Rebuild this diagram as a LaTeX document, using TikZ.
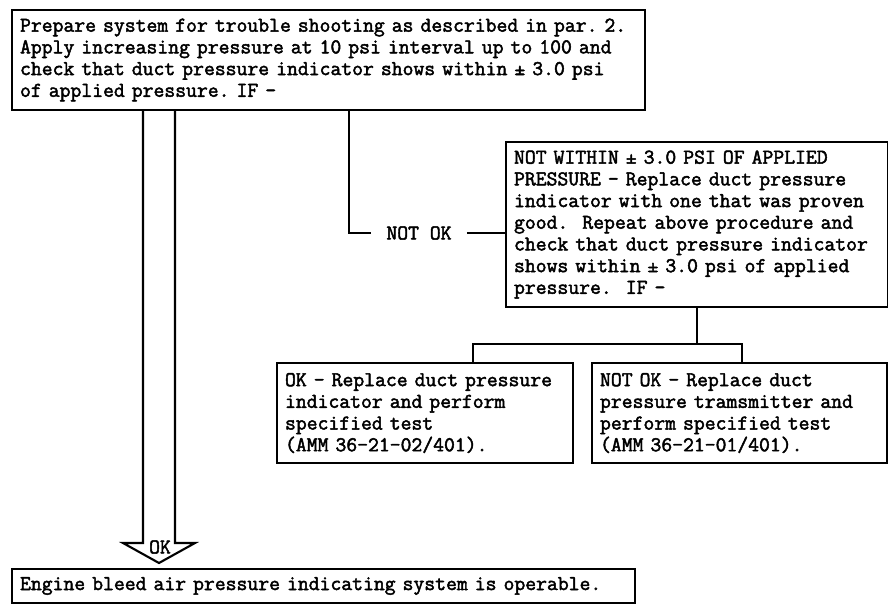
\documentclass[tikz,border=0pt]{standalone}
\usepackage{fontspec}
\setmonofont{Latin Modern Mono}[FakeBold=2.2]
\usepackage{tikz}
\usetikzlibrary{positioning}
\newcommand{\boxfont}{\ttfamily\fontsize{12}{12.35}\selectfont\frenchspacing}

\begin{document}
\begin{tikzpicture}[x=0.02cm,y=-0.02cm,
  stepbox/.style={draw,rectangle,line width=1.2pt,align=left,inner xsep=0.16cm,inner ysep=0pt,font=\boxfont},
  link/.style={line width=1.2pt}]
\useasboundingbox (0,0) rectangle (888,608);
\node[stepbox,minimum width=12.66cm,text width=12.34cm,minimum height=2cm] (prep) at (328.5,60) {Prepare system for trouble shooting as described in par. 2.\\
Apply increasing pressure at 10 psi interval up to 100 and\\
check that duct pressure indicator shows within ± 3.0 psi\\
of applied pressure. IF –};
\node[stepbox,minimum width=7.64cm,text width=7.32cm,minimum height=3.3cm] (retry) at (697,224.5) {NOT WITHIN ± 3.0 PSI OF APPLIED\\
PRESSURE – Replace duct pressure\\
indicator with one that was proven\\
good.\ \ Repeat above procedure and\\
check that duct pressure indicator\\
shows within ± 3.0 psi of applied\\
pressure.\ \ IF –};
\node[stepbox,minimum width=5.92cm,text width=5.6cm,minimum height=2cm] (okrep) at (425,413) {OK – Replace duct pressure\\
indicator and perform\\
specified test\\
(AMM 36–21–02/401).};
\node[stepbox,minimum width=5.9cm,text width=5.58cm,minimum height=2cm] (nokrep) at (739.5,413) {NOT OK – Replace duct\\
pressure tramsmitter and\\
perform specified test\\
(AMM 36–21–01/401).};
\node[stepbox,minimum width=12.46cm,text width=12.14cm,minimum height=0.68cm] (done) at (323.5,586) {Engine bleed air pressure indicating system is operable.};

% not ok branch
\coordinate (tap) at (349,110);
\node[font=\boxfont,inner xsep=0.3cm,inner ysep=0pt] (notok) at (419,233) {NOT OK};
\draw[link] (tap) |- (notok.west);
\draw[link] (notok.east) -- (notok.east -| retry.west);
\draw[link] (retry.south) -- ++(0,36) coordinate (split);
\draw[link] ([xshift=0.96cm]okrep.north) |- (split) -| ([xshift=0.05cm]nokrep.north);

% ok arrow
\coordinate (okin) at (159,110);
\coordinate (okout) at (159,563);
\draw[link,line join=miter] (okin) ++(-16,0) -- ++(0,433) -- ++(-20,0) -- (okout) -- ++(36,-20) -- ++(-20,0) -- ++(0,-433);
\node[font=\boxfont,inner sep=0pt] (oklbl) at (160,547) {OK};
\end{tikzpicture}
\end{document}
